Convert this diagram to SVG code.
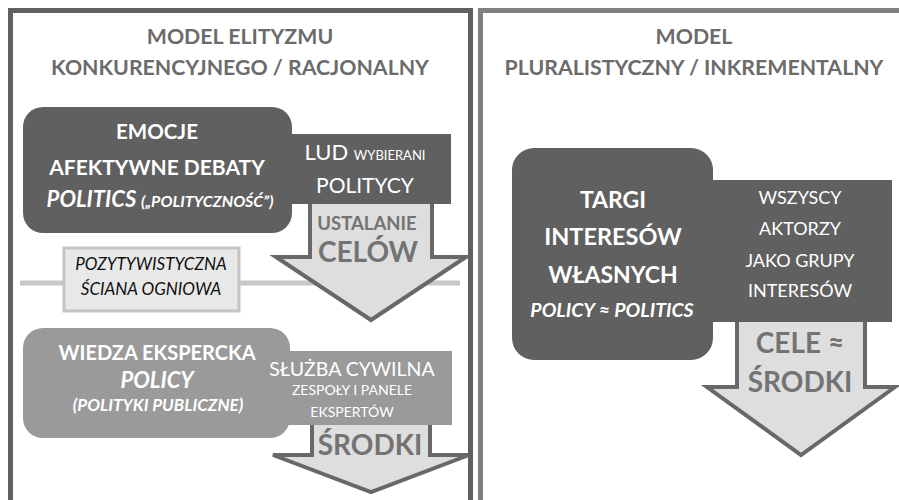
<svg xmlns="http://www.w3.org/2000/svg" width="899" height="500" viewBox="0 0 899 500">
<style>
text{font-family:Lato,"Open Sans","Liberation Sans",sans-serif;text-anchor:middle}
.hdr{font-weight:bold;font-size:21.3px;fill:#6b6b6b}
.wb{font-weight:bold;fill:#ffffff}
.wr{fill:#ffffff}
.bi{font-weight:bold;font-style:italic;fill:#ffffff}
.ar{font-weight:bold;fill:#737373}
.dark{fill:#606060}
.mid{fill:#9a9a9a}
.arrow{fill:#dedede;stroke:#686868;stroke-width:4;stroke-linejoin:miter}
.fw{font-style:italic;font-size:17px;fill:#111111}
</style>
<rect width="899" height="500" fill="#ffffff"/>
<g id="panel-left">
<rect x="10.5" y="10.5" width="460" height="520" fill="none" stroke="#606060" stroke-width="5"/>
<text class="hdr" x="240" y="44">MODEL ELITYZMU</text>
<text class="hdr" x="240" y="75">KONKURENCYJNEGO / RACJONALNY</text>
</g>
<g id="panel-right">
<rect x="480.5" y="10.5" width="440" height="520" fill="none" stroke="#808080" stroke-width="5"/>
<text class="hdr" x="694" y="44">MODEL</text>
<text class="hdr" x="694" y="75">PLURALISTYCZNY / INKREMENTALNY</text>
</g>
<g id="firewall-line">
<line x1="20" y1="283" x2="460" y2="283" stroke="#c8c8c8" stroke-width="5"/>
</g>
<g id="connectors">
<path class="arrow" d="M310,200 L432,200 L432,257 L466,257 L371,320 L276,257 L310,257 Z"/>
<path class="arrow" d="M312,420 L430,420 L430,455 L469,455 L371,492 L273,455 L312,455 Z"/>
<path class="arrow" d="M737,318 L865,318 L865,387 L895,387 L801,455 L707,387 L737,387 Z"/>
<text class="ar" x="367" y="230" font-size="18.5">USTALANIE</text>
<text class="ar" x="368" y="262" font-size="28">CELÓW</text>
<text class="ar" x="370" y="455" font-size="28">ŚRODKI</text>
<text class="ar" x="800" y="353" font-size="28">CELE ≈</text>
<text class="ar" x="800" y="392" font-size="28">ŚRODKI</text>
</g>
<g id="node-emocje">
<rect class="dark" x="23" y="107" width="269" height="126" rx="20"/>
<rect class="dark" x="280" y="134" width="171" height="70"/>
<text class="wb" x="157" y="139" font-size="20.5">EMOCJE</text>
<text class="wb" x="157" y="175" font-size="21">AFEKTYWNE DEBATY</text>
<text class="bi" x="160" y="207" font-size="22">POLITICS <tspan font-size="16">(„POLITYCZNOŚĆ”)</tspan></text>
<text class="wr" x="365" y="160" font-size="22">LUD <tspan font-size="13">WYBIERANI</tspan></text>
<text class="wr" x="365" y="193" font-size="21">POLITYCY</text>
</g>
<g id="node-firewall">
<rect x="64" y="248" width="175" height="63" fill="#e8e8e8" stroke="#c4c4c4" stroke-width="3"/>
<text class="fw" x="151" y="270">POZYTYWISTYCZNA</text>
<text class="fw" x="151" y="295">ŚCIANA OGNIOWA</text>
</g>
<g id="node-wiedza">
<rect class="mid" x="23" y="328" width="267" height="110" rx="20"/>
<rect class="mid" x="280" y="351" width="172" height="74"/>
<text class="wb" x="157" y="360" font-size="20">WIEDZA EKSPERCKA</text>
<text class="bi" x="157" y="388" font-size="22">POLICY</text>
<text class="bi" x="158" y="411" font-size="17">(POLITYKI PUBLICZNE)</text>
<text class="wr" x="352" y="376" font-size="19.5">SŁUŻBA CYWILNA</text>
<text class="wr" x="352" y="395" font-size="14">ZESPOŁY I PANELE</text>
<text class="wr" x="352" y="417" font-size="14">EKSPERTÓW</text>
</g>
<g id="node-targi">
<rect class="dark" x="512" y="148" width="201" height="212" rx="22"/>
<rect class="dark" x="700" y="180" width="192" height="142"/>
<text class="wb" x="613" y="208" font-size="23">TARGI</text>
<text class="wb" x="613" y="245" font-size="23.5">INTERESÓW</text>
<text class="wb" x="613" y="283" font-size="23">WŁASNYCH</text>
<text class="bi" x="612" y="317" font-size="19.5">POLICY ≈ POLITICS</text>
<text class="wr" x="800" y="204" font-size="18">WSZYSCY</text>
<text class="wr" x="800" y="235" font-size="18">AKTORZY</text>
<text class="wr" x="800" y="267" font-size="18">JAKO GRUPY</text>
<text class="wr" x="800" y="297" font-size="18">INTERESÓW</text>
</g>
</svg>
